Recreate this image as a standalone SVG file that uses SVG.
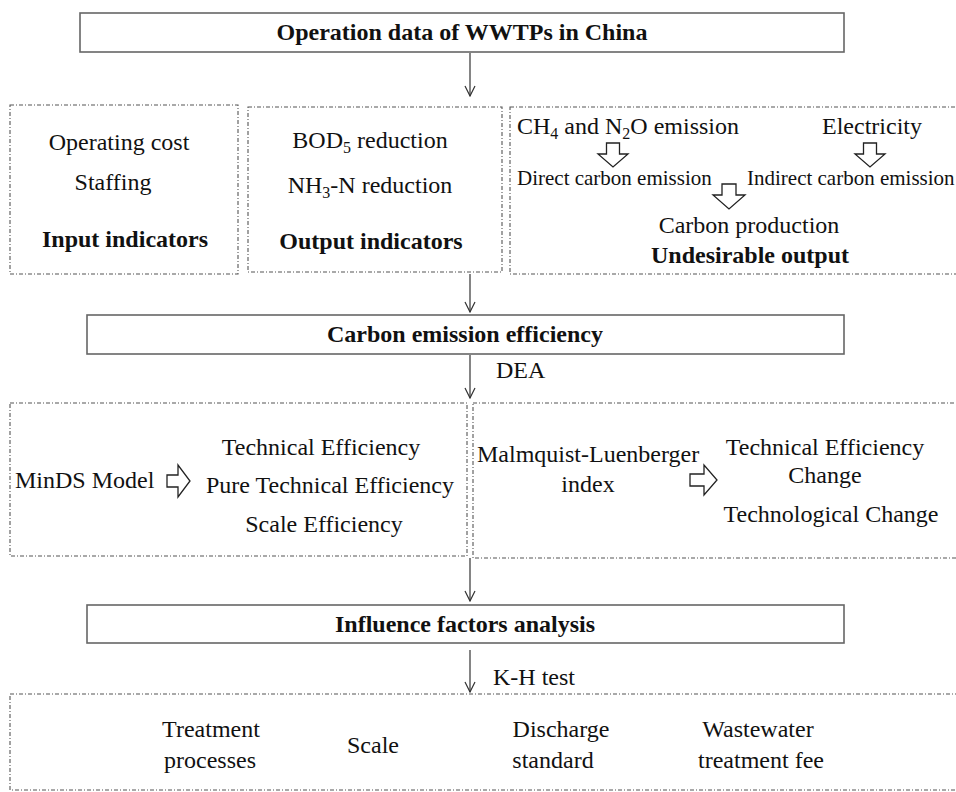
<svg xmlns="http://www.w3.org/2000/svg" width="956" height="792" viewBox="0 0 956 792">
<style>
text{font-family:"Liberation Serif","Times New Roman",serif;font-size:24px;fill:#111}
.b{font-weight:bold}
.m{text-anchor:middle}
.sm{font-size:21px}
.solid{fill:#fff;stroke:#666;stroke-width:1.6}
.dash{fill:none;stroke:#555;stroke-width:1.1;stroke-dasharray:4 2 1 2}
.conn line{stroke:#333;stroke-width:1.2;marker-end:url(#ah)}
.blk{fill:#fff;stroke:#222;stroke-width:1.3;stroke-linejoin:miter}
</style>
<defs>
<marker id="ah" viewBox="0 0 12 12" refX="11" refY="6" markerWidth="12" markerHeight="12" markerUnits="userSpaceOnUse" orient="auto">
<path d="M1,1 L11,6 L1,11" fill="none" stroke="#333" stroke-width="1.2"/>
</marker>
</defs>
<rect width="956" height="792" fill="#fff"/>

<g id="n-operation">
<rect class="solid" x="80" y="13" width="764" height="39"/>
<text class="b m" x="462" y="40">Operation data of WWTPs in China</text>
</g>

<g id="n-input">
<rect class="dash" x="10" y="105" width="228" height="169"/>
<text class="m" x="119" y="150">Operating cost</text>
<text class="m" x="113" y="190">Staffing</text>
<text class="b m" x="125" y="247">Input indicators</text>
</g>

<g id="n-output">
<rect class="dash" x="248" y="107" width="254" height="165"/>
<text class="m" x="370" y="148">BOD<tspan font-size="16" dy="5">5</tspan><tspan dy="-5"> reduction</tspan></text>
<text class="m" x="370" y="193">NH<tspan font-size="16" dy="5">3</tspan><tspan dy="-5">-N reduction</tspan></text>
<text class="b m" x="371" y="249">Output indicators</text>
</g>

<g id="n-undesirable">
<rect class="dash" x="510" y="107" width="460" height="167"/>
<text x="517" y="134">CH<tspan font-size="16" dy="5">4</tspan><tspan dy="-5"> and N</tspan><tspan font-size="16" dy="5">2</tspan><tspan dy="-5">O emission</tspan></text>
<text class="m" x="872" y="134">Electricity</text>
<polygon class="blk" points="606.5,143 619.5,143 619.5,154 628,154 613,167 598,154 606.5,154"/>
<polygon class="blk" points="863.5,143 876.5,143 876.5,154 885,154 870,167 855,154 863.5,154"/>
<text class="sm" x="517" y="185">Direct carbon emission</text>
<text class="sm" x="747" y="185">Indirect carbon emission</text>
<polygon class="blk" points="722,184 736,184 736,195 745,195 729,209 713,195 722,195"/>
<text class="m" x="749" y="233">Carbon production</text>
<text class="b m" x="750" y="263">Undesirable output</text>
</g>

<g id="n-efficiency">
<rect class="solid" x="87" y="315" width="757" height="39"/>
<text class="b m" x="465" y="342">Carbon emission efficiency</text>
</g>

<g id="n-minds">
<rect class="dash" x="10" y="403" width="457" height="153"/>
<text x="15" y="488">MinDS Model</text>
<polygon class="blk" points="167,475 178,475 178,465 190,481 178,497 178,487 167,487"/>
<text class="m" x="321" y="455">Technical Efficiency</text>
<text class="m" x="330" y="493">Pure Technical Efficiency</text>
<text class="m" x="324" y="532">Scale Efficiency</text>
</g>

<g id="n-malmquist">
<rect class="dash" x="473" y="403" width="497" height="155"/>
<text x="477" y="462">Malmquist-Luenberger</text>
<text class="m" x="588" y="492">index</text>
<polygon class="blk" points="690,474 704,474 704,465 717,480 704,495 704,486 690,486"/>
<text class="m" x="825" y="455">Technical Efficiency</text>
<text class="m" x="825" y="483">Change</text>
<text class="m" x="831" y="522">Technological Change</text>
</g>

<g id="n-influence">
<rect class="solid" x="87" y="605" width="757" height="38"/>
<text class="b m" x="465" y="632">Influence factors analysis</text>
</g>

<g id="n-factors">
<rect class="dash" x="10" y="694" width="960" height="96"/>
<text class="m" x="211" y="737">Treatment</text>
<text class="m" x="210" y="768">processes</text>
<text class="m" x="373" y="753">Scale</text>
<text class="m" x="561" y="737">Discharge</text>
<text class="m" x="553" y="768">standard</text>
<text class="m" x="758" y="737">Wastewater</text>
<text class="m" x="761" y="768">treatment fee</text>
</g>

<g id="connectors" class="conn">
<line x1="470" y1="53" x2="470" y2="96"/>
<line x1="470" y1="274" x2="470" y2="312"/>
<line x1="470" y1="355" x2="470" y2="398"/>
<line x1="470" y1="558" x2="470" y2="601"/>
<line x1="470" y1="650" x2="470" y2="692"/>
<text x="496" y="378">DEA</text>
<text x="493" y="685">K-H test</text>
</g>
</svg>
